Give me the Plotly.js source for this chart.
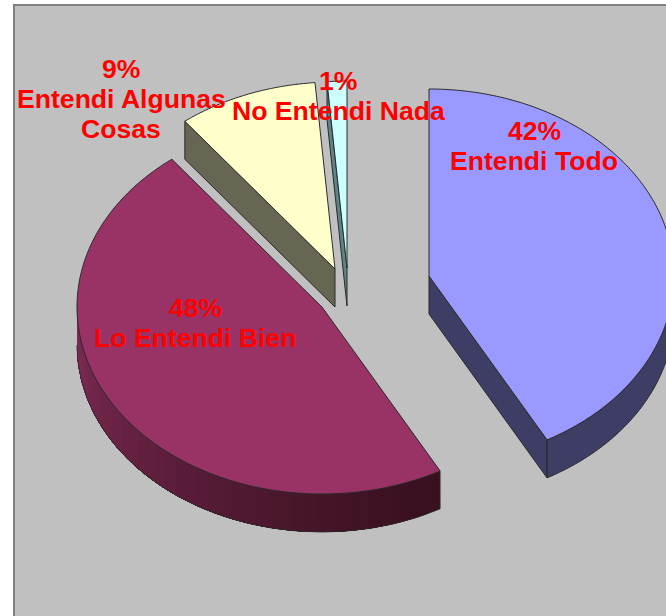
<!DOCTYPE html>
<html>
<head>
<meta charset="utf-8">
<script src="https://cdn.plot.ly/plotly-3.0.1.min.js"></script>
<style>html,body{margin:0;padding:0;background:#fff;overflow:hidden}#chart{width:666px;height:616px}</style>
</head>
<body>
<div id="chart"></div>
<script>
// Data
const categories = ["Entendi Todo", "Lo Entendi Bien", "Entendi Algunas Cosas", "No Entendi Nada"];
const shares = [42, 47.5, 9.2, 1.3];
const labelLines = [["Entendi Todo"], ["Lo Entendi Bien"], ["Entendi Algunas", "Cosas"], ["No Entendi Nada"]];

// Styles
const topColors = ["#9999ff", "#993366", "#ffffcc", "#ccffff"];
const wallColors = ["#3d3d66", "#6a2447", "#666652", "#5c8484"];
const edge = "#2a2a2a";

// Layout of the exploded, tilted pie (axis units are page pixels)
const apexX = [429, 322, 335, 347];
const apexY = [276, 307, 269, 268];
const radiusX = 245, radiusY = 187, depth = 38;
const labelX = [534, 195, 121, 338];
const labelY = [131, 308, 69, 81];
const lineGap = 30;

const rad = d => d * Math.PI / 180;
const total = shares.reduce((a, b) => a + b, 0);
const rim = (i, deg, dy) => [apexX[i] + radiusX * Math.sin(rad(deg)), apexY[i] - radiusY * Math.cos(rad(deg)) + (dy || 0)];

function arcPoints(i, from, to, dy) {
  const n = Math.max(2, Math.ceil(Math.abs(to - from) * 1.5));
  const pts = [];
  for (let k = 0; k <= n; k++) pts.push(rim(i, from + (to - from) * k / n, dy));
  return pts;
}
function poly(pts, fill, lineColor, width) {
  const closed = pts.concat([pts[0]]);
  return {
    type: "scatter", mode: "lines", fill: "toself", fillcolor: fill,
    x: closed.map(p => p[0]), y: closed.map(p => p[1]),
    line: { color: lineColor, width: width === undefined ? 1 : width, simplify: false },
    hoverinfo: "skip", showlegend: false
  };
}
function mix(a, b, t) {
  const c = s => [1, 3, 5].map(j => parseInt(s.substr(j, 2), 16));
  const A = c(a), B = c(b);
  return "rgb(" + A.map((v, j) => Math.round(v + (B[j] - v) * t)).join(",") + ")";
}

// Slice angles from the shares
let acc = 0;
const angles = shares.map(v => { const s = acc; acc += v / total * 360; return [s, acc]; });

const traces = [];
[3, 2, 1, 0].forEach(i => {
  const [a, b] = angles[i];
  const A = [apexX[i], apexY[i]];
  // cut faces that look towards the viewer
  if (a >= 270) {
    const r = rim(i, a);
    traces.push(poly([A, r, [r[0], r[1] + depth], [A[0], A[1] + depth]], wallColors[i], edge));
  }
  if (b > 90 && b < 180) {
    const r = rim(i, b);
    traces.push(poly([A, r, [r[0], r[1] + depth], [A[0], A[1] + depth]], wallColors[i], edge));
  }
  // outer wall
  const from = Math.max(a, 90), to = Math.min(b, 270);
  if (to > from) {
    if (i === 1) {
      // shaded wall of the big slice: overlapping bands so that no seams show
      const bands = 40;
      for (let k = 0; k < bands; k++) {
        const s = from + (to - from) * k / bands;
        const col = mix("#38101f", "#7f2b55", Math.pow(k / (bands - 1), 1.2));
        traces.push(poly(arcPoints(i, s, to, 0).concat(arcPoints(i, to, s, depth)), col, col, 0));
      }
      const lower = arcPoints(i, from, to, depth);
      traces.push({
        type: "scatter", mode: "lines",
        x: lower.map(p => p[0]), y: lower.map(p => p[1]),
        line: { color: edge, width: 0.8 }, hoverinfo: "skip", showlegend: false
      });
      const r = rim(i, from);
      traces.push({
        type: "scatter", mode: "lines", x: [r[0], r[0]], y: [r[1], r[1] + depth],
        line: { color: edge, width: 1 }, hoverinfo: "skip", showlegend: false
      });
    } else {
      traces.push(poly(arcPoints(i, from, to, 0).concat(arcPoints(i, to, from, depth)), wallColors[i], edge));
    }
  }
  // top face
  traces.push(poly([A].concat(arcPoints(i, a, b, 0)), topColors[i], edge));
});

// Text: percentage on the first line, then the category name
const annotations = [];
shares.forEach((v, i) => {
  const lines = [Math.round(v + 1e-9) + "%"].concat(labelLines[i]);
  lines.forEach((t, k) => annotations.push({
    x: labelX[i], y: labelY[i] + k * lineGap, xref: "x", yref: "y",
    text: t, showarrow: false, xanchor: "center", yanchor: "middle",
    font: { family: "Liberation Sans, Arial, sans-serif", size: 26.6, color: "#ff0000", weight: 700 }
  }));
});

const layout = {
  width: 666, height: 616, margin: { l: 0, r: 0, t: 0, b: 0 },
  paper_bgcolor: "#ffffff", plot_bgcolor: "#ffffff", showlegend: false,
  xaxis: { range: [0, 666], visible: false, fixedrange: true },
  yaxis: { range: [616, 0], visible: false, fixedrange: true },
  shapes: [{
    type: "rect", xref: "x", yref: "y", layer: "below",
    x0: 14, y0: 5, x1: 760, y1: 720,
    fillcolor: "#c0c0c0", line: { color: "#808080", width: 2 }
  }],
  annotations: annotations
};
Plotly.newPlot("chart", traces, layout, { staticPlot: true, displayModeBar: false });
</script>
</body>
</html>
